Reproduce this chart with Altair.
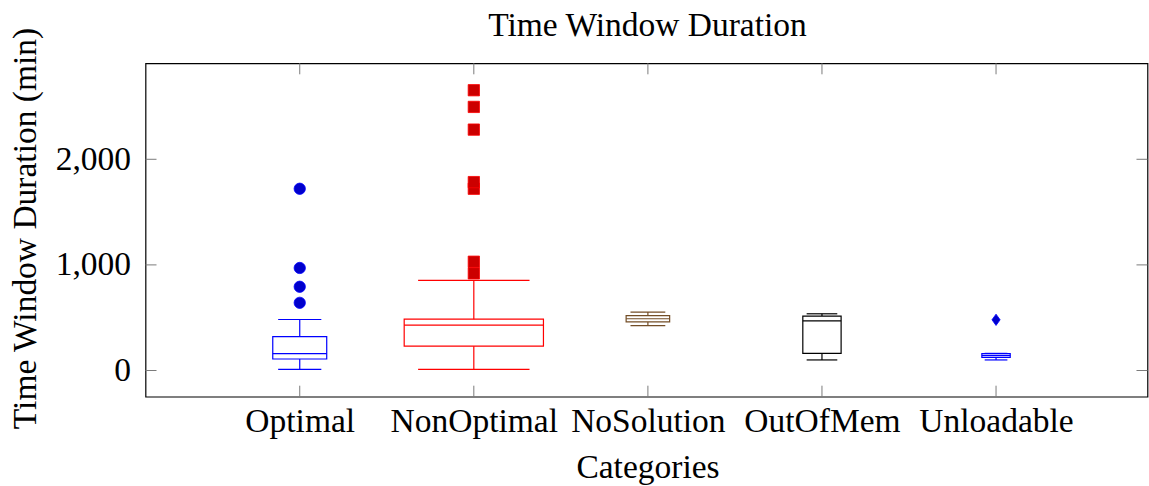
import altair as alt
import pandas as pd

# Box-plot summary per outcome category (minutes)
categories = ["Optimal", "NonOptimal", "NoSolution", "OutOfMem", "Unloadable"]
lower_whisker = [11, 11, 424, 100, 100]
lower_quartile = [109, 230, 460, 163, 125]
median = [160, 429, 490, 470, 142]
upper_quartile = [321, 486, 519, 515, 160]
upper_whisker = [483, 853, 553, 537, 162]

# Individual outliers
outlier_category = ["Optimal"] * 4 + ["NonOptimal"] * 7 + ["Unloadable"]
outlier_value = [641, 793, 971, 1721,
                 920, 1030, 1721, 1784, 2281, 2496, 2654,
                 480]

y_ticks = [0, 1000, 2000]
chart_title = "Time Window Duration"

# Styling
line_colors = ["#0000ff", "#ff0000", "#734d26", "#000000", "#0000ff"]
mark_fills = ["#0000cc", "#cc0000", "#5c3d1f", "#000000", "#0000cc"]
box_widths = [0.31, 0.80, 0.25, 0.22, 0.163]
CAP = 0.8
FONT = "Liberation Serif"
FS = 33.5
W, H = 1002, 333.4
X_DOM = [0.114, 5.87]
Y_DOM = [-248, 2909]

boxes = pd.DataFrame({
    "category": categories,
    "pos": list(range(1, len(categories) + 1)),
    "lw": lower_whisker, "q1": lower_quartile, "med": median,
    "q3": upper_quartile, "uw": upper_whisker, "bw": box_widths,
})
boxes["lo"] = boxes["pos"] - boxes["bw"] / 2
boxes["hi"] = boxes["pos"] + boxes["bw"] / 2
boxes["clo"] = boxes["pos"] - CAP * boxes["bw"] / 2
boxes["chi"] = boxes["pos"] + CAP * boxes["bw"] / 2

outliers = pd.DataFrame({"category": outlier_category, "value": outlier_value})
outliers["pos"] = outliers["category"].map({c: i + 1 for i, c in enumerate(categories)})

xs = alt.Scale(domain=X_DOM, nice=False, zero=False)
ys = alt.Scale(domain=Y_DOM, nice=False, zero=False)
col = alt.Color("category:N", scale=alt.Scale(domain=categories, range=line_colors), legend=None)

label_list = "[''," + ",".join(f"'{c}'" for c in categories) + "]"
x_axis = alt.Axis(values=list(range(1, len(categories) + 1)), labelExpr=f"{label_list}[datum.value]",
                  title="Categories", grid=False, ticks=False, tickSize=0, domain=False,
                  labelFont=FONT, labelFontSize=FS, labelColor="black", labelBaseline="alphabetic",
                  labelPadding=35, titleFont=FONT, titleFontSize=FS, titleFontWeight="normal",
                  titleColor="black", titleBaseline="alphabetic", titleX=W / 2 + 1, titleY=80.6,
                  labelFlush=False, labelOverlap=False)
y_axis = alt.Axis(values=y_ticks, format=",d", title="Time Window Duration (min)", grid=False,
                  ticks=False, tickSize=0, domain=False, labelFont=FONT, labelFontSize=FS,
                  labelColor="black", labelPadding=15, labelBaseline="middle",
                  titleFont=FONT, titleFontSize=FS, titleFontWeight="normal", titleColor="black",
                  titleAngle=270, titleBaseline="alphabetic", titleAlign="center",
                  titleX=-110, titleY=H / 2 - 2, labelFlush=False)

base = alt.Chart(boxes)

box = base.mark_rect(fill="white", fillOpacity=0, strokeWidth=1.2).encode(
    x=alt.X("lo:Q", scale=xs, axis=x_axis), x2="hi:Q",
    y=alt.Y("q1:Q", scale=ys, axis=y_axis), y2="q3:Q",
    stroke=col,
)
med = base.mark_rule(strokeWidth=1.2).encode(
    x=alt.X("lo:Q", scale=xs), x2="hi:Q", y=alt.Y("med:Q", scale=ys), color=col)
whisk_up = base.mark_rule(strokeWidth=1.2).encode(
    x=alt.X("pos:Q", scale=xs), y=alt.Y("q3:Q", scale=ys), y2="uw:Q", color=col)
whisk_lo = base.mark_rule(strokeWidth=1.2).encode(
    x=alt.X("pos:Q", scale=xs), y=alt.Y("lw:Q", scale=ys), y2="q1:Q", color=col)
cap_up = base.mark_rule(strokeWidth=1.2).encode(
    x=alt.X("clo:Q", scale=xs), x2="chi:Q", y=alt.Y("uw:Q", scale=ys), color=col)
cap_lo = base.mark_rule(strokeWidth=1.2).encode(
    x=alt.X("clo:Q", scale=xs), x2="chi:Q", y=alt.Y("lw:Q", scale=ys), color=col)

shape_scale = alt.Scale(domain=["Optimal", "NonOptimal", "Unloadable"],
                        range=["circle", "square", "M0,-1L0.72,0L0,1L-0.72,0Z"])
pts = alt.Chart(outliers).mark_point(filled=True, opacity=1, size=128, strokeWidth=0.8).encode(
    x=alt.X("pos:Q", scale=xs), y=alt.Y("value:Q", scale=ys),
    shape=alt.Shape("category:N", scale=shape_scale, legend=None),
    fill=alt.Fill("category:N", scale=alt.Scale(domain=categories, range=mark_fills), legend=None),
    stroke=alt.Stroke("category:N", scale=alt.Scale(domain=categories, range=line_colors), legend=None),
)

# Inward tick marks on all four sides
TL = 11
ytick_df = pd.DataFrame({"v": y_ticks})
xtick_df = pd.DataFrame({"p": list(range(1, len(categories) + 1))})
tick_style = dict(color="#7a7a7a", strokeWidth=1)
yl = alt.Chart(ytick_df).mark_rule(**tick_style).encode(
    y=alt.Y("v:Q", scale=ys), x=alt.value(0), x2=alt.value(TL))
yr = alt.Chart(ytick_df).mark_rule(**tick_style).encode(
    y=alt.Y("v:Q", scale=ys), x=alt.value(W - TL), x2=alt.value(W))
xb = alt.Chart(xtick_df).mark_rule(**tick_style).encode(
    x=alt.X("p:Q", scale=xs), y=alt.value(H - TL), y2=alt.value(H))
xt = alt.Chart(xtick_df).mark_rule(**tick_style).encode(
    x=alt.X("p:Q", scale=xs), y=alt.value(0), y2=alt.value(TL))

# Chart title drawn as text above the plot frame
title = alt.Chart(pd.DataFrame({"t": [chart_title]})).mark_text(
    font=FONT, fontSize=FS, color="black", align="center", baseline="alphabetic"
).encode(text="t:N", x=alt.value(W / 2 + 1), y=alt.value(-27.3))

chart = alt.layer(yl, yr, xb, xt, box, whisk_up, whisk_lo, cap_up, cap_lo, med, pts, title).properties(
    width=W, height=H,
    autosize=alt.AutoSizeParams(type="none"),
    padding={"left": 145.5, "top": 63.3, "right": 1.5, "bottom": 90},
).configure(background="white").configure_view(stroke="black", strokeWidth=1.2)

chart.save("out.html", embed_options={"renderer": "svg", "actions": False})
